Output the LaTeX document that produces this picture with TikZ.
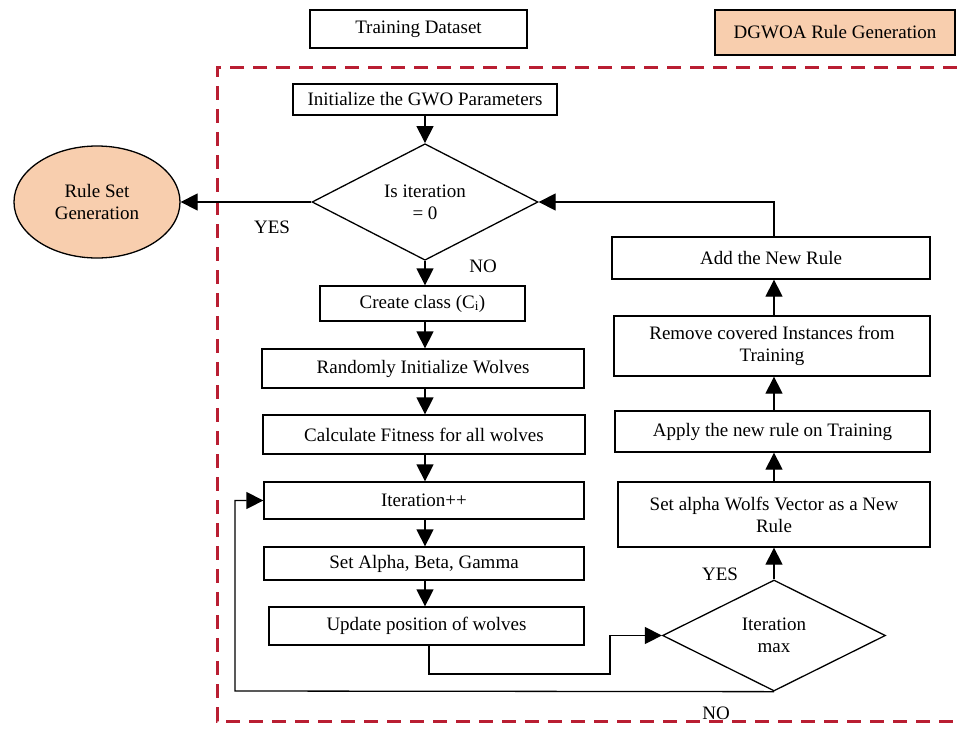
\documentclass[tikz,border=0pt]{standalone}
\usepackage{fontspec}
\setmainfont{Liberation Serif}
\usetikzlibrary{arrows.meta,shapes.geometric}
\definecolor{peach}{RGB}{248,206,174}
\definecolor{dred}{RGB}{185,30,50}
\begin{document}
\begin{tikzpicture}[x=1pt,y=-1pt,
  font=\fontsize{19}{22}\selectfont,
  box/.style={draw, line width=1.3pt, rectangle, inner sep=0pt, align=center},
  dia/.style={draw, line width=1.3pt, diamond, inner sep=0pt, align=center},
  arr/.style={line width=1.3pt, -{Triangle[length=17pt,width=17pt]}},
  lbl/.style={inner sep=0pt}]
\useasboundingbox (0,0) rectangle (957,728);

\draw[dred, line width=3pt, dash pattern=on 14pt off 9pt] (957,67) -- (217,67) -- (217,721) -- (957,721);

\node[box, minimum width=217, minimum height=38] (train) at (418.5,29) {Training Dataset};
\node[box, fill=peach, minimum width=240, minimum height=45] (dgwoa) at (835,32.5) {DGWOA Rule Generation};
\node[box, minimum width=264, minimum height=31] (init) at (425,99.5) {Initialize the GWO Parameters};
\node[dia, minimum width=226, minimum height=106] (d1) at (425,202) {Is iteration\\= 0};
\node[draw, ellipse, fill=peach, line width=1.3pt, minimum width=166, minimum height=112, align=center, inner sep=0pt] (rsg) at (97,202) {Rule Set\\Generation};
\node[box, minimum width=205, minimum height=35] (create) at (422.5,303.5) {Create class (C\textsubscript{i})};
\node[box, minimum width=322, minimum height=39] (rand) at (423,368.5) {Randomly Initialize Wolves};
\node[box, minimum width=322, minimum height=39] (calc) at (424,434.5) {Calculate Fitness for all wolves};
\node[box, minimum width=320, minimum height=37] (iter) at (424,500.5) {Iteration++};
\node[box, minimum width=320, minimum height=33] (setab) at (424,563.5) {Set Alpha, Beta, Gamma};
\node[box, minimum width=315, minimum height=38] (upd) at (426.5,626) {Update position of wolves};
\node[dia, minimum width=223, minimum height=111] (d2) at (774,635.5) {Iteration\\max};
\node[box, minimum width=312, minimum height=65] (sawv) at (774,514.5) {Set alpha Wolfs Vector as a New\\Rule};
\node[box, minimum width=315, minimum height=41] (apply) at (772.5,431.5) {Apply the new rule on Training};
\node[box, minimum width=316, minimum height=60] (remove) at (772,346) {Remove covered Instances from\\Training};
\node[box, minimum width=318, minimum height=42] (add) at (771,258) {Add the New Rule};

% left chain
\draw[arr] (init.south) -- (d1.north);
\draw[arr] (d1.south) -- (d1.south |- create.north);
\draw[arr] (d1.south |- create.south) -- (d1.south |- rand.north);
\draw[arr] (d1.south |- rand.south) -- (d1.south |- calc.north);
\draw[arr] (d1.south |- calc.south) -- (d1.south |- iter.north);
\draw[arr] (d1.south |- iter.south) -- (d1.south |- setab.north);
\draw[arr] (d1.south |- setab.south) -- (d1.south |- upd.north);

% yes to rule set
\draw[arr] (d1.west) -- (rsg.east);

% right chain
\draw[arr] (d2.north) -- (d2.north |- sawv.south);
\draw[arr] (d2.north |- sawv.north) -- (d2.north |- apply.south);
\draw[arr] (d2.north |- apply.north) -- (d2.north |- remove.south);
\draw[arr] (d2.north |- remove.north) -- (d2.north |- add.south);
\draw[arr] (d2.north |- add.north) |- (d1.east);

% update -> iteration max
\coordinate (c1) at (429,674);
\coordinate (c2) at (610,674);
\draw[arr] (c1 |- upd.south) -- (c1) -- (c2) |- (d2.west);

% NO loop
\coordinate (c3) at (235,691);
\draw[arr] (d2.south) -- (c3) |- (iter.west);

\node[lbl] (yes1) at (272,227) {YES};
\node[lbl] (no1) at (483,266) {NO};
\node[lbl] (yes2) at (720,574) {YES};
\node[lbl] (no2) at (716,713) {NO};
\end{tikzpicture}
\end{document}
